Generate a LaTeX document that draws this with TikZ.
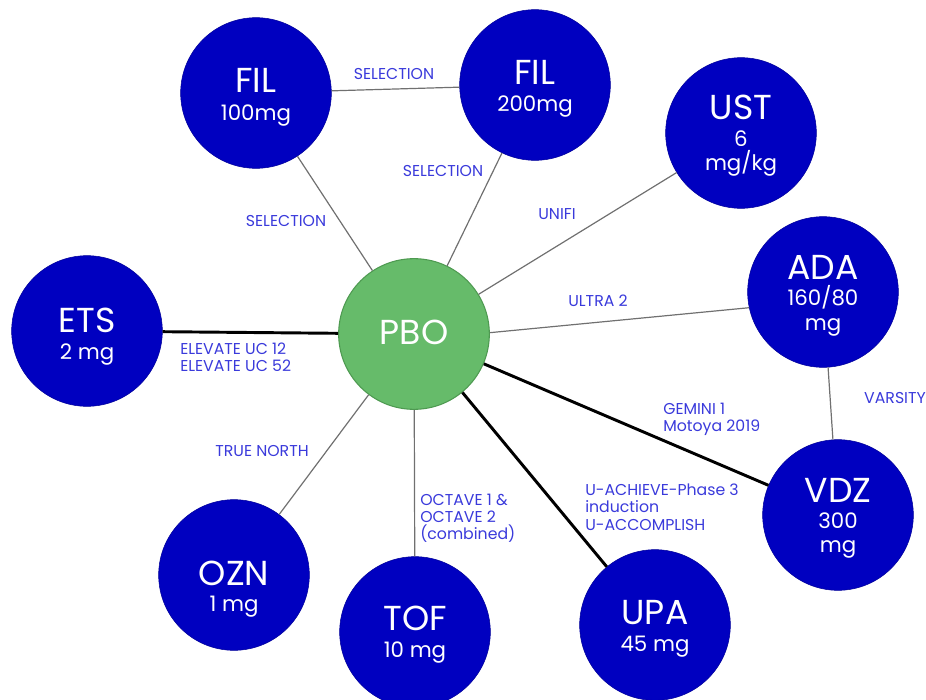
\documentclass[tikz,border=0pt]{standalone}
\usepackage{fontspec}
\setmainfont{Poppins}
\definecolor{nodeblue}{HTML}{0000C0}
\definecolor{pbogreen}{HTML}{66BB6A}
\definecolor{pboedge}{HTML}{4E9A51}
\definecolor{labelblue}{HTML}{3A3ADB}
\definecolor{thinline}{HTML}{707070}
\begin{document}
\begin{tikzpicture}[x=0.75pt,y=-0.75pt,
  bubble/.style={circle, fill=nodeblue, draw=nodeblue!80!black, line width=0.4pt,
    minimum size=113pt, inner sep=0pt},
  pbonode/.style={bubble, fill=pbogreen, draw=pboedge, line width=0.8pt},
  nm/.style={text=white, font=\fontsize{26}{30}\selectfont, inner sep=0pt, anchor=base},
  sb/.style={text=white, font=\fontsize{16}{18}\selectfont, inner sep=0pt, anchor=base},
  weak/.style={draw=thinline, line width=0.9pt},
  strong/.style={draw=black, line width=2.2pt},
  lbl/.style={text=labelblue, font=\fontsize{11.8}{12.8}\selectfont, inner sep=0pt, align=left}]
\useasboundingbox (0,0) rectangle (926,700);
\clip (0,0) rectangle (926,700);
% circles
\node[pbonode] (pbo) at (414,334) {};
\node[bubble] (fil1) at (256,93) {};
\node[bubble] (fil2) at (535,85) {};
\node[bubble] (ust) at (741,133) {};
\node[bubble] (ada) at (823,292) {};
\node[bubble] (vdz) at (838,515) {};
\node[bubble] (upa) at (655,625) {};
\node[bubble] (tof) at (415,632) {};
\node[bubble] (ozn) at (234,575) {};
\node[bubble] (ets) at (87,331) {};
% circle texts
\node[nm] (pbot) at (414,344) {PBO};
\node[nm] (fil1t) at (256,92) {FIL};
\node[sb] (fil1s) at (256,120) {100mg};
\node[nm] (fil2t) at (535,84) {FIL};
\node[sb] (fil2s) at (535,111) {200mg};
\node[nm] (ustt) at (741,119) {UST};
\node[sb] (usts) at (741,146) {6};
\node[sb] (usts2) at (741,170) {mg/kg};
\node[nm] (adat) at (823,279) {ADA};
\node[sb] (adas) at (823,305) {160/80};
\node[sb] (adas2) at (823,330) {mg};
\node[nm] (vdzt) at (838,502) {VDZ};
\node[sb] (vdzs) at (838,528) {300};
\node[sb] (vdzs2) at (838,552) {mg};
\node[nm] (upat) at (655,624) {UPA};
\node[sb] (upas) at (655,651) {45 mg};
\node[nm] (toft) at (415,630) {TOF};
\node[sb] (tofs) at (415,657) {10 mg};
\node[nm] (oznt) at (234,585) {OZN};
\node[sb] (ozns) at (234,611) {1 mg};
\node[nm] (etst) at (87,332) {ETS};
\node[sb] (etss) at (87,359) {2 mg};
% connectors
\draw[weak] (fil1) -- (fil2);
\draw[weak] (fil1) -- (pbo);
\draw[weak] (fil2) -- (pbo);
\draw[weak] (ust) -- (pbo);
\draw[weak] (pbo.1) -- (ada.192);
\draw[weak] (ada) -- (vdz);
\draw[strong] (pbo) -- (vdz);
\draw[strong] (pbo) -- (upa);
\draw[weak] (pbo) -- (tof);
\draw[weak] (pbo) -- (ozn);
\draw[strong] (ets) -- (pbo);
% labels
\node[lbl] (l1) at (394,74) {SELECTION};
\node[lbl] (l2) at (286,221) {SELECTION};
\node[lbl] (l3) at (443,171) {SELECTION};
\node[lbl] (l4) at (557,214) {UNIFI};
\node[lbl] (l5) at (598,301) {ULTRA 2};
\node[lbl, anchor=north west] (l6) at (180,343) {ELEVATE UC 12\\ELEVATE UC 52};
\node[lbl] (l7) at (262,451) {TRUE NORTH};
\node[lbl, anchor=north west] (l8) at (420,494) {OCTAVE 1 \&\\OCTAVE 2\\(combined)};
\node[lbl, anchor=north west] (l9) at (585,484) {U-ACHIEVE-Phase 3\\induction\\U-ACCOMPLISH};
\node[lbl, anchor=north west] (l10) at (663,403) {GEMINI 1\\Motoya 2019};
\node[lbl] (l11) at (895,398) {VARSITY};
\end{tikzpicture}
\end{document}
